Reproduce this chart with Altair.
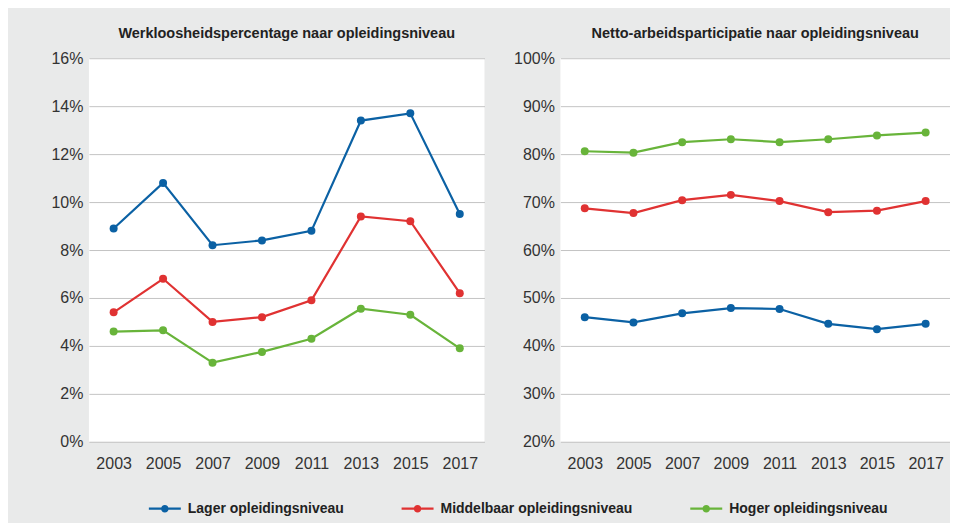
import altair as alt
import pandas as pd

years = [2003, 2005, 2007, 2009, 2011, 2013, 2015, 2017]
levels = ["Lager opleidingsniveau", "Middelbaar opleidingsniveau", "Hoger opleidingsniveau"]
colors = ["#0b61a4", "#e03232", "#68b43a"]

# Werkloosheidspercentage (%)
unemp_lager = [8.9, 10.8, 8.2, 8.4, 8.8, 13.4, 13.7, 9.5]
unemp_midden = [5.4, 6.8, 5.0, 5.2, 5.9, 9.4, 9.2, 6.2]
unemp_hoger = [4.6, 4.65, 3.3, 3.75, 4.3, 5.55, 5.3, 3.9]

# Netto-arbeidsparticipatie (%)
part_lager = [46.0, 44.9, 46.8, 47.9, 47.7, 44.6, 43.5, 44.6]
part_midden = [68.7, 67.7, 70.4, 71.5, 70.2, 67.9, 68.2, 70.2]
part_hoger = [80.6, 80.3, 82.5, 83.1, 82.5, 83.1, 83.9, 84.5]


def make_df(series):
    rows = []
    for lvl, vals in zip(levels, series):
        for y, v in zip(years, vals):
            rows.append({"jaar": str(y), "niveau": lvl, "waarde": v / 100.0})
    return pd.DataFrame(rows)


df_unemp = make_df([unemp_lager, unemp_midden, unemp_hoger])
df_part = make_df([part_lager, part_midden, part_hoger])

FONT = "Liberation Sans"
PAD_TOP = 17

# legend symbol: a line with a dot in the middle (unit = 8px, box is 16px, drawn 32px wide)
legend_symbol = (
    "M-2,-0.14L-0.45,-0.14L-0.45,0.14L-2,0.14Z "
    "M0.45,-0.14L2,-0.14L2,0.14L0.45,0.14Z "
    "M0,-0.47A0.47,0.47 0 1,1 0,0.47A0.47,0.47 0 1,1 0,-0.47Z"
)

color_scale = alt.Scale(domain=levels, range=colors)

legend = alt.Legend(
    title=None, orient="none", direction="horizontal",
    legendX=68, legendY=443,
    symbolType=legend_symbol, symbolSize=256, symbolStrokeWidth=0,
    labelFont=FONT, labelFontSize=14, labelFontWeight="bold", labelLimit=400,
    labelColor="#222222", labelOffset=15, columnPadding=57,
)


def panel(df, title, domain, step, width):
    ticks = []
    v = domain[0]
    while v <= domain[1] + 1e-9:
        ticks.append(round(v, 4))
        v += step
    x = alt.X(
        "jaar:O",
        scale=alt.Scale(type="point", padding=0.5),
        axis=alt.Axis(title=None, labelAngle=0, domain=False, ticks=False,
                      labelPadding=14, labelFontSize=16, labelColor="#333333",
                      labelFont=FONT, grid=False),
    )
    y = alt.Y(
        "waarde:Q",
        scale=alt.Scale(domain=domain, nice=False, zero=False),
        axis=alt.Axis(title=None, values=ticks, format=".0%", domain=False, ticks=False,
                      labelPadding=6, labelFontSize=16, labelColor="#333333",
                      labelFont=FONT, gridColor="#c4c4c4", gridWidth=1),
    )
    color = alt.Color("niveau:N", scale=color_scale, sort=levels, legend=legend)
    base = alt.Chart(df)
    pts = base.mark_circle(size=64, opacity=1).encode(x=x, y=y, color=color)
    line = base.mark_line(strokeWidth=2.2).encode(x=x, y=y, color=color)
    return alt.layer(pts, line).properties(
        width=width, height=384,
        title=alt.TitleParams(title, fontSize=14.5, fontWeight="bold", font=FONT,
                              color="#222222", anchor="middle", frame="group",
                              offset=9),
    )


left = panel(df_unemp, "Werkloosheidspercentage naar opleidingsniveau", [0, 0.16], 0.02, 396)
right = panel(df_part, "Netto-arbeidsparticipatie naar opleidingsniveau", [0.2, 1.0], 0.1, 390)

chart = (
    alt.hconcat(left, right, spacing=29)
    .resolve_scale(color="shared")
    .properties(
        background="#e9eaea",
        padding={"left": 42, "top": PAD_TOP, "right": 0, "bottom": 7},
    )
    .configure_view(fill="white", stroke=None)
)

chart.save("out.html", embed_options={"renderer": "svg", "actions": False})
